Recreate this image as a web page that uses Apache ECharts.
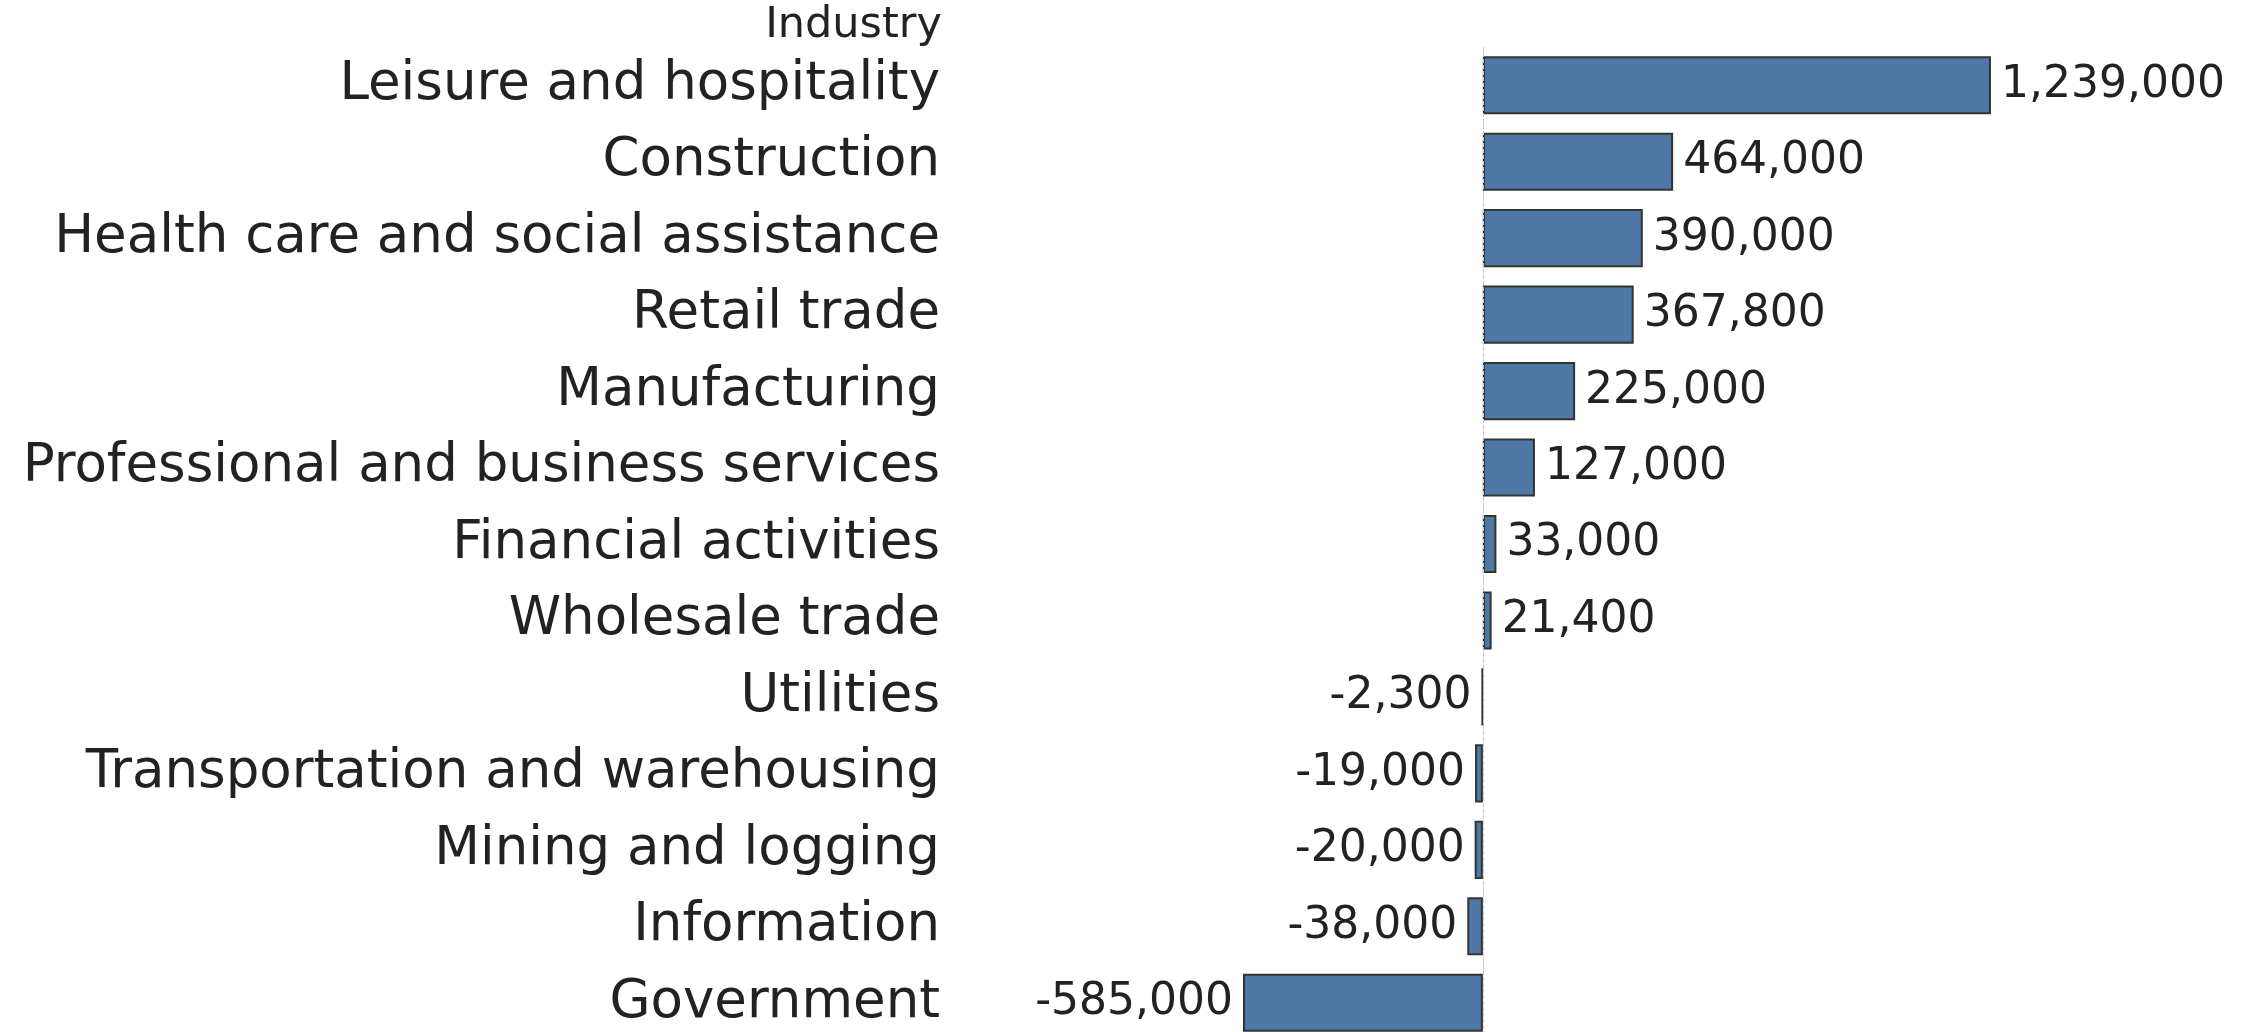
<!DOCTYPE html>
<html>
<head>
<meta charset="utf-8">
<script src="https://cdn.jsdelivr.net/npm/echarts@6/dist/echarts.min.js"></script>
<style>
  html, body { margin: 0; padding: 0; background: #fff; overflow: hidden; }
  /* 图表底部被裁掉一点，所以容器比窗口略高 */
  #main { width: 2251px; height: 1050px; }
</style>
</head>
<body>
<div id="main"></div>
<script>
var industries = [
  'Leisure and hospitality',
  'Construction',
  'Health care and social assistance',
  'Retail trade',
  'Manufacturing',
  'Professional and business services',
  'Financial activities',
  'Wholesale trade',
  'Utilities',
  'Transportation and warehousing',
  'Mining and logging',
  'Information',
  'Government'
];
var jobChange = [1239000, 464000, 390000, 367800, 225000, 127000, 33000, 21400, -2300, -19000, -20000, -38000, -585000];

var fontName = 'DejaVu Sans';

window.onload = function() {
  var myChart = echarts.init(document.getElementById('main'));

  // 正负值的标签放在不同一侧
  var barData = jobChange.map(function(v) {
    return { value: v, label: { position: v < 0 ? 'left' : 'right' } };
  });

  var option = {
    animation: false,
    textStyle: { fontFamily: fontName },
    graphic: [{
      type: 'text',
      right: 2251 - 942,
      top: 4,
      style: { text: 'Industry', font: '43px ' + fontName, fill: '#222' }
    }],
    grid: { left: 960, top: 47, width: 1261, height: 994 },
    xAxis: {
      type: 'value',
      min: -1275000,
      max: 1800000,
      show: false
    },
    yAxis: {
      type: 'category',
      inverse: true,
      data: industries,
      axisLine: { show: true, lineStyle: { color: '#f0f0f0', width: 1 } },
      axisTick: { show: false },
      axisLabel: { fontSize: 53, color: '#222', margin: 20, fontFamily: fontName }
    },
    series: [{
      type: 'bar',
      data: barData,
      barWidth: '76%',
      itemStyle: { color: '#4e79a7', borderColor: '#333', borderWidth: 2 },
      label: {
        show: true,
        distance: 10,
        fontSize: 44,
        color: '#222',
        fontFamily: fontName,
        formatter: function(p) { return p.value.toLocaleString('en-US'); }
      },
      markLine: {
        silent: true,
        symbol: 'none',
        label: { show: false },
        lineStyle: { color: '#c8c8c8', type: 'dashed', width: 1 },
        data: [{ xAxis: 0 }]
      }
    }]
  };
  myChart.setOption(option);
};
</script>
</body>
</html>
